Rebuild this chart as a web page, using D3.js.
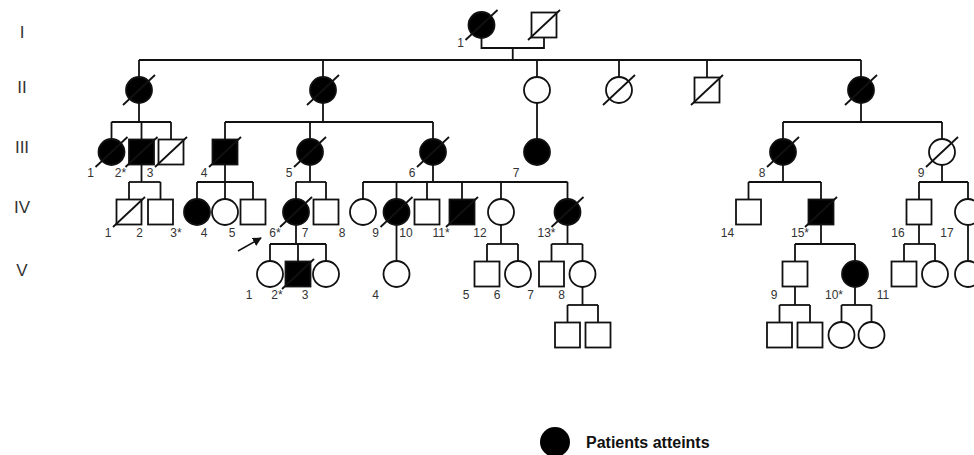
<!DOCTYPE html>
<html>
<head>
<meta charset="utf-8">
<script src="https://cdn.jsdelivr.net/npm/d3@7/dist/d3.min.js"></script>
<style>
  body { margin: 0; background: #fff; }
  svg { display: block; font-family: "Liberation Sans", Arial, sans-serif; }
</style>
</head>
<body>
<svg id="vis" width="974" height="455"></svg>
<script>
// generation row names
const generationNames = ['I', 'II', 'III', 'IV', 'V'];

// [id, generation, layout position, sex, affected, deceased, label, parent]
const genI = [
  ['I-1', 1, 481.5, 'F', 1, 1, '1', null],
  ['I-2', 1, 544, 'M', 0, 1, '', null]
];
const genII = [
  ['II-1', 2, 139, 'F', 1, 1, '', 'C1'],
  ['II-2', 2, 323, 'F', 1, 1, '', 'C1'],
  ['II-3', 2, 537, 'F', 0, 0, '', 'C1'],
  ['II-4', 2, 619, 'F', 0, 1, '', 'C1'],
  ['II-5', 2, 707, 'M', 0, 1, '', 'C1'],
  ['II-6', 2, 861, 'F', 1, 1, '', 'C1']
];
const genIII = [
  ['III-1', 3, 111.5, 'F', 1, 1, '1', 'II-1'],
  ['III-2', 3, 141.5, 'M', 1, 1, '2*', 'II-1'],
  ['III-3', 3, 171, 'M', 0, 1, '3', 'II-1'],
  ['III-4', 3, 225, 'M', 1, 1, '4', 'II-2'],
  ['III-5', 3, 310, 'F', 1, 1, '5', 'II-2'],
  ['III-6', 3, 433, 'F', 1, 1, '6', 'II-2'],
  ['III-7', 3, 537, 'F', 1, 0, '7', 'II-3'],
  ['III-8', 3, 783, 'F', 1, 1, '8', 'II-6'],
  ['III-9', 3, 942, 'F', 0, 1, '9', 'II-6']
];
const genIV = [
  ['IV-1', 4, 129, 'M', 0, 1, '1', 'III-2'],
  ['IV-2', 4, 160.5, 'M', 0, 0, '2', 'III-2'],
  ['IV-3', 4, 197, 'F', 1, 0, '3*', 'III-4'],
  ['IV-4', 4, 225, 'F', 0, 0, '4', 'III-4'],
  ['IV-5', 4, 253, 'M', 0, 0, '5', 'III-4'],
  ['IV-6', 4, 296, 'F', 1, 1, '6*', 'III-5'],
  ['IV-7', 4, 326, 'M', 0, 0, '7', 'III-5'],
  ['IV-8', 4, 363, 'F', 0, 0, '8', 'III-6'],
  ['IV-9', 4, 396.5, 'F', 1, 1, '9', 'III-6'],
  ['IV-10', 4, 427, 'M', 0, 0, '10', 'III-6'],
  ['IV-11', 4, 462, 'M', 1, 1, '11*', 'III-6'],
  ['IV-12', 4, 501, 'F', 0, 0, '12', 'III-6'],
  ['IV-13', 4, 567.5, 'F', 1, 1, '13*', 'III-6'],
  ['IV-14', 4, 748.5, 'M', 0, 0, '14', 'III-8'],
  ['IV-15', 4, 821, 'M', 1, 1, '15*', 'III-8'],
  ['IV-16', 4, 919, 'M', 0, 0, '16', 'III-9'],
  ['IV-17', 4, 968, 'F', 0, 0, '17', 'III-9']
];
const genV = [
  ['V-1', 5, 270, 'F', 0, 0, '1', 'IV-6'],
  ['V-2', 5, 298, 'M', 1, 1, '2*', 'IV-6'],
  ['V-3', 5, 326, 'F', 0, 0, '3', 'IV-6'],
  ['V-4', 5, 396.5, 'F', 0, 0, '4', 'IV-9'],
  ['V-5', 5, 487, 'M', 0, 0, '5', 'IV-12'],
  ['V-6', 5, 518, 'F', 0, 0, '6', 'IV-12'],
  ['V-7', 5, 551.5, 'M', 0, 0, '7', 'IV-13'],
  ['V-8', 5, 582.5, 'F', 0, 0, '8', 'IV-13'],
  ['V-9', 5, 795, 'M', 0, 0, '9', 'IV-15'],
  ['V-10', 5, 855, 'F', 1, 0, '10*', 'IV-15'],
  ['V-12', 5, 904, 'M', 0, 0, '', 'IV-16'],
  ['V-13', 5, 935, 'F', 0, 0, '', 'IV-16'],
  ['V-14', 5, 968, 'F', 0, 0, '', 'IV-17']
];
const genVI = [
  ['VI-1', 6, 567.5, 'M', 0, 0, '', 'V-8'],
  ['VI-2', 6, 598, 'M', 0, 0, '', 'V-8'],
  ['VI-3', 6, 779.5, 'M', 0, 0, '', 'V-9'],
  ['VI-4', 6, 810, 'M', 0, 0, '', 'V-9'],
  ['VI-5', 6, 841.5, 'F', 0, 0, '', 'V-10'],
  ['VI-6', 6, 871.5, 'F', 0, 0, '', 'V-10']
];
// labels without a drawn symbol
const looseLabels = [['11', 5, 904]];
// couples: [id, partner a, partner b]
const couples = [['C1', 'I-1', 'I-2']];
const probandId = 'IV-6';
const legendText = 'Patients atteints';

const svg = d3.select('#vis');
const x = d3.scaleLinear().domain([0, 974]).range([0, 974]);
const y = d3.scaleLinear().domain([1, 2, 3, 4, 5, 6]).range([25, 90, 152, 212, 274, 335]);
const rowLabelY = d3.scaleLinear().domain([1, 2, 3, 4, 5]).range([32, 87, 147, 207, 270]);

const R = 13;      // circle radius
const H = 12.5;    // half square side
const ink = '#111';
const lw = 1.8;

const people = [].concat(genI, genII, genIII, genIV, genV, genVI).map(p => ({
  id: p[0], gen: p[1], pos: p[2], sex: p[3], aff: p[4], dec: p[5], label: p[6], parent: p[7]
}));
const byId = {};
people.forEach(p => { byId[p.id] = p; });

// couple nodes act as the parent of a sibship
couples.forEach(c => {
  const a = byId[c[1]];
  const b = byId[c[2]];
  byId[c[0]] = { id: c[0], gen: a.gen, pos: (a.pos + b.pos) / 2, couple: [a, b] };
});

const lines = svg.append('g')
  .attr('stroke', ink)
  .attr('stroke-width', lw)
  .attr('fill', 'none');

function bottomOf(node) {
  return node.couple ? y(node.gen) + 23 : y(node.gen) + R;
}

// couple lines
Object.values(byId).filter(n => n.couple).forEach(n => {
  const jy = bottomOf(n);
  const pts = n.couple.map(p => [x(p.pos), y(p.gen) + R]);
  lines.append('path')
    .attr('d', 'M' + pts[0][0] + ',' + pts[0][1] + 'V' + jy + 'H' + pts[1][0] + 'V' + pts[1][1]);
});

// sibships
const groups = d3.group(people.filter(p => p.parent), p => p.parent);
groups.forEach((kids, parentId) => {
  const parent = byId[parentId];
  const sibY = y(kids[0].gen) - 30;
  const xs = kids.map(k => x(k.pos)).concat([x(parent.pos)]);
  lines.append('line')
    .attr('x1', x(parent.pos)).attr('x2', x(parent.pos))
    .attr('y1', bottomOf(parent)).attr('y2', sibY);
  lines.append('line')
    .attr('x1', d3.min(xs)).attr('x2', d3.max(xs))
    .attr('y1', sibY).attr('y2', sibY);
  kids.forEach(k => {
    lines.append('line')
      .attr('x1', x(k.pos)).attr('x2', x(k.pos))
      .attr('y1', sibY).attr('y2', y(k.gen) - R);
  });
});

// symbols
const sym = svg.append('g');
people.forEach(p => {
  const cx = x(p.pos);
  const cy = y(p.gen);
  const fill = p.aff ? '#000' : '#fff';
  if (p.sex === 'F') {
    sym.append('circle')
      .attr('cx', cx).attr('cy', cy).attr('r', R)
      .attr('fill', fill).attr('stroke', ink).attr('stroke-width', lw);
  } else {
    sym.append('rect')
      .attr('x', cx - H).attr('y', cy - H)
      .attr('width', H * 2).attr('height', H * 2)
      .attr('fill', fill).attr('stroke', ink).attr('stroke-width', lw);
  }
  if (p.dec) {
    sym.append('line')
      .attr('x1', cx - 16).attr('y1', cy + 15)
      .attr('x2', cx + 16).attr('y2', cy - 15)
      .attr('stroke', ink).attr('stroke-width', lw);
  }
});

// individual numbers
const labelData = people.filter(p => p.label)
  .map(p => ({ text: p.label, gen: p.gen, pos: p.pos }))
  .concat(looseLabels.map(l => ({ text: l[0], gen: l[1], pos: l[2] })));
svg.append('g')
  .selectAll('text')
  .data(labelData)
  .join('text')
  .attr('x', d => x(d.pos) - 21)
  .attr('y', d => y(d.gen) + (d.gen === 1 ? 18 : 21))
  .attr('text-anchor', 'middle')
  .attr('dominant-baseline', 'central')
  .attr('font-size', 12)
  .attr('fill', '#333')
  .text(d => d.text);

// generation numerals
svg.append('g')
  .selectAll('text')
  .data(generationNames)
  .join('text')
  .attr('x', 22)
  .attr('y', (d, i) => rowLabelY(i + 1))
  .attr('text-anchor', 'middle')
  .attr('dominant-baseline', 'central')
  .attr('font-size', 17)
  .attr('fill', '#333')
  .text(d => d);

// proband arrow
svg.append('defs').append('marker')
  .attr('id', 'arrow')
  .attr('viewBox', '0 0 10 10')
  .attr('refX', 9).attr('refY', 5)
  .attr('markerWidth', 6).attr('markerHeight', 6)
  .attr('orient', 'auto')
  .append('path')
  .attr('d', 'M0,0L10,5L0,10z')
  .attr('fill', ink);
const pb = byId[probandId];
svg.append('line')
  .attr('x1', x(pb.pos) - 58).attr('y1', y(pb.gen) + 39)
  .attr('x2', x(pb.pos) - 35).attr('y2', y(pb.gen) + 26)
  .attr('stroke', ink).attr('stroke-width', 1.5)
  .attr('marker-end', 'url(#arrow)');

// legend
const legend = svg.append('g').attr('transform', 'translate(555,442)');
legend.append('circle').attr('r', 15).attr('fill', '#000');
legend.append('text')
  .attr('x', 31)
  .attr('dominant-baseline', 'central')
  .attr('font-size', 16)
  .attr('font-weight', 'bold')
  .attr('fill', '#111')
  .text(legendText);
</script>
</body>
</html>
